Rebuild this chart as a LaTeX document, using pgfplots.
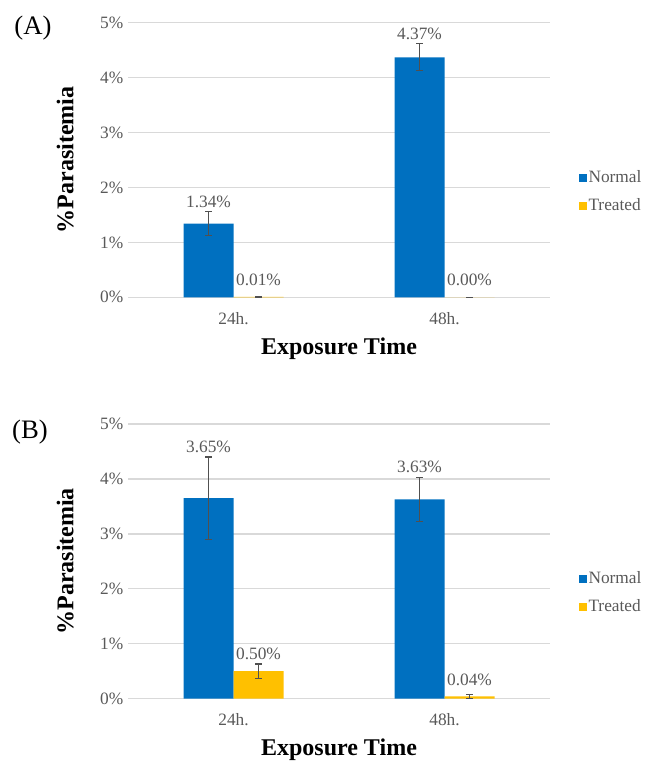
\documentclass[border=0pt]{standalone}
\usepackage{pgfplots}
\pgfplotsset{compat=1.18}
\usepackage{pgfplotstable}
\usepackage{fontspec}
\setmainfont{Liberation Serif}
\definecolor{barblue}{HTML}{0070C0}
\definecolor{baryellow}{HTML}{FFC000}
\definecolor{txtgray}{HTML}{595959}
\definecolor{gridgray}{HTML}{D9D9D9}
\definecolor{errgray}{HTML}{505050}

% n/t: values, ne/te: error, nl/tl: data label position
\pgfplotstableread{
x n ne nl t te tl
0 1.34 0.22 1.56 0.01 0.01 0.137
1 4.37 0.245 4.615 0.00 0.00 0.127
}\dataA
\pgfplotstableread{
x n ne nl t te tl
0 3.65 0.75 4.40 0.50 0.13 0.63
1 3.63 0.40 4.03 0.04 0.04 0.167
}\dataB

\pgfplotsset{
  panel/.style={
    scale only axis,
    width=316.5pt, height=206pt,
    anchor=south west,
    ybar=0pt, bar width=37.5pt,
    xmin=-0.5, xmax=1.5, ymin=0, ymax=5,
    xtick={0,1}, xticklabels={24h.,48h.},
    ytick={0,1,2,3,4,5},
    yticklabel={\pgfmathprintnumber{\tick}\%},
    /pgf/number format/assume math mode=true,
    ymajorgrids, grid style={gridgray, line width=1pt},
    axis line style={draw=none},
    major tick length=0pt,
    ticklabel style={font=\fontsize{13}{15}\selectfont, text=txtgray},
    xticklabel style={anchor=center, yshift=-15.75pt},
    xlabel={Exposure Time},
    ylabel={\%Parasitemia},
    label style={font=\fontsize{18}{20}\selectfont\bfseries, text=black},
    xlabel style={at={(axis description cs:0.5,-0.186)}, anchor=center},
    ylabel style={at={(axis description cs:-0.149,0.5)}, anchor=center},
    legend style={at={(axis description cs:1.059,0.385)}, anchor=west, draw=none, fill=none,
      font=\fontsize{13}{15}\selectfont, text=txtgray, row sep=8pt,
      nodes={inner sep=1pt, text height=9pt, text depth=2pt}},
    legend cell align=left,
    legend image code/.code={\fill[##1] (0pt,-3pt) rectangle (6pt,3pt);},
    clip=false,
  },
  errs/.style={
    error bars/.cd, y dir=both, y explicit,
    error bar style={errgray, line width=0.9pt},
    error mark options={rotate=90, mark size=2.6pt, line width=0.9pt, errgray},
  },
  labs/.style={
    draw=none, fill=none, forget plot, bar shift=#1,
    point meta=explicit,
    nodes near coords={\pgfmathprintnumber[fixed,fixed zerofill,precision=2]{\pgfplotspointmeta}\%},
    nodes near coords style={font=\fontsize{13}{15}\selectfont, text=txtgray, anchor=center, yshift=7.5pt},
  },
}

\begin{document}
\begin{tikzpicture}
\useasboundingbox (0pt,0pt) rectangle (483pt,571.5pt);
\begin{axis}[panel, at={(96pt,348.5pt)}]
\addplot[fill=barblue, draw=none, bar shift=-18.75pt, errs] table[x=x,y=n,y error=ne] {\dataA};
\addplot[fill=baryellow, draw=none, bar shift=18.75pt, errs] table[x=x,y=t,y error=te] {\dataA};
\addplot[labs=-18.75pt] table[x=x,y=nl,meta=n] {\dataA};
\addplot[labs=18.75pt] table[x=x,y=tl,meta=t] {\dataA};
\legend{Normal,Treated}
\end{axis}
\node[font=\fontsize{20}{22}\selectfont] at (24.75pt,550.5pt) {(A)};
\begin{axis}[panel, at={(96pt,47.5pt)}]
\addplot[fill=barblue, draw=none, bar shift=-18.75pt, errs] table[x=x,y=n,y error=ne] {\dataB};
\addplot[fill=baryellow, draw=none, bar shift=18.75pt, errs] table[x=x,y=t,y error=te] {\dataB};
\addplot[labs=-18.75pt] table[x=x,y=nl,meta=n] {\dataB};
\addplot[labs=18.75pt] table[x=x,y=tl,meta=t] {\dataB};
\legend{Normal,Treated}
\end{axis}
\node[font=\fontsize{20}{22}\selectfont] at (22.5pt,247.5pt) {(B)};
\end{tikzpicture}
\end{document}
